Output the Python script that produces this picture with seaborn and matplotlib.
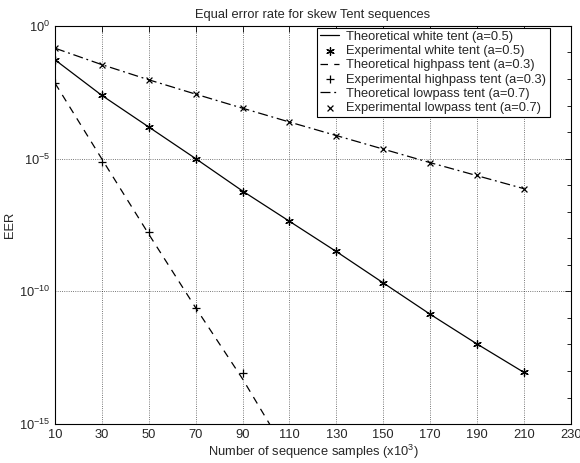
import numpy as np
import pandas as pd
import matplotlib
matplotlib.use('Agg')
import matplotlib.pyplot as plt
import seaborn as sns
from matplotlib.ticker import FixedLocator, NullFormatter

# sample counts (x10^3)
n_white = [10, 30, 50, 70, 90, 110, 130, 150, 170, 190, 210]
n_high = [10, 30, 50, 70, 90]
n_high_theo = [10, 30, 50, 70, 90, 110]

# log10 of EER
white_theo = [-1.28, -2.62, -3.81, -5.00, -6.22, -7.36, -8.50, -9.68, -10.86, -11.98, -13.05]
white_exp = [-1.28, -2.62, -3.81, -5.00, -6.26, -7.33, -8.49, -9.69, -10.87, -11.97, -13.02]
high_theo = [-2.16, -5.02, -7.85, -10.62, -13.30, -16.25]
high_exp = [-2.16, -5.13, -7.78, -10.62, -13.06]
low_theo = [-0.84, -1.46, -2.03, -2.57, -3.10, -3.62, -4.13, -4.64, -5.15, -5.64, -6.13]
low_exp = [-0.84, -1.47, -2.05, -2.55, -3.11, -3.63, -4.14, -4.62, -5.18, -5.61, -6.13]

x_ticks = [10, 30, 50, 70, 90, 110, 130, 150, 170, 190, 210, 230]

sns.set_style('white')
plt.rcParams['font.family'] = ['Liberation Sans', 'DejaVu Sans']
plt.rcParams['mathtext.fontset'] = 'custom'
plt.rcParams['mathtext.rm'] = 'Liberation Sans'

fig = plt.figure(figsize=(5.8, 4.63), dpi=100)
ax = fig.add_axes([0.095, 0.084, 0.889, 0.860])

def pw(v):
    return 10.0 ** np.array(v)

asterisk = (6, 2, 0)

sns.lineplot(x=n_white, y=pw(white_theo), ax=ax, color='black', lw=0.9,
             linestyle='-', label='Theoretical white tent (a=0.5)')
sns.scatterplot(x=n_white, y=pw(white_exp), ax=ax, color='black', marker=asterisk,
                s=30, linewidth=0.9, label='Experimental white tent (a=0.5)')
sns.lineplot(x=n_high_theo, y=pw(high_theo), ax=ax, color='black', lw=0.9,
             linestyle=(0, (6, 5)), label='Theoretical highpass tent (a=0.3)')
sns.scatterplot(x=n_high, y=pw(high_exp), ax=ax, color='black', marker='+',
                s=40, linewidth=0.9, label='Experimental highpass tent (a=0.3)')
sns.lineplot(x=n_white, y=pw(low_theo), ax=ax, color='black', lw=0.9,
             linestyle=(0, (8, 3, 1.5, 3)), label='Theoretical lowpass tent (a=0.7)')
sns.scatterplot(x=n_white, y=pw(low_exp), ax=ax, color='black', marker='x',
                s=18, linewidth=0.9, label='Experimental lowpass tent (a=0.7)')

ax.set_yscale('log')
ax.set_xlim(10, 230)
ax.set_ylim(1e-15, 1)
ax.set_xticks(x_ticks)
ax.set_yticks([1e-15, 1e-10, 1e-5, 1])
ax.set_yticklabels([r'$10^{-15}$', r'$10^{-10}$', r'$10^{-5}$', r'$10^{0}$'])
ax.yaxis.set_minor_locator(FixedLocator([10.0 ** k for k in range(-14, 0) if k % 5 != 0]))
ax.yaxis.set_minor_formatter(NullFormatter())
ax.tick_params(which='both', direction='in', top=True, right=True, labelsize=9.3,
               color='black', width=0.6)
ax.tick_params(which='major', length=4)
ax.tick_params(which='minor', length=3)
ax.grid(True, which='major', color='black', linestyle=':', linewidth=0.6, alpha=0.7)
for s in ax.spines.values():
    s.set_color('black')
    s.set_linewidth(0.8)

ax.set_title('Equal error rate for skew Tent sequences', fontsize=9.3, pad=6)
ax.set_xlabel(r'Number of sequence samples (x10$^3$)', fontsize=9.3, labelpad=1)
ax.set_ylabel('EER', fontsize=9.3, labelpad=2)

leg = ax.legend(loc='upper right', bbox_to_anchor=(0.959, 0.996), fontsize=9.3,
                frameon=True, fancybox=False, edgecolor='black', framealpha=1,
                borderpad=0.25, labelspacing=0.17, handlelength=1.5,
                handletextpad=0.55, borderaxespad=0.0)
leg.get_frame().set_linewidth(0.8)

fig.savefig('out.png', dpi=100)
